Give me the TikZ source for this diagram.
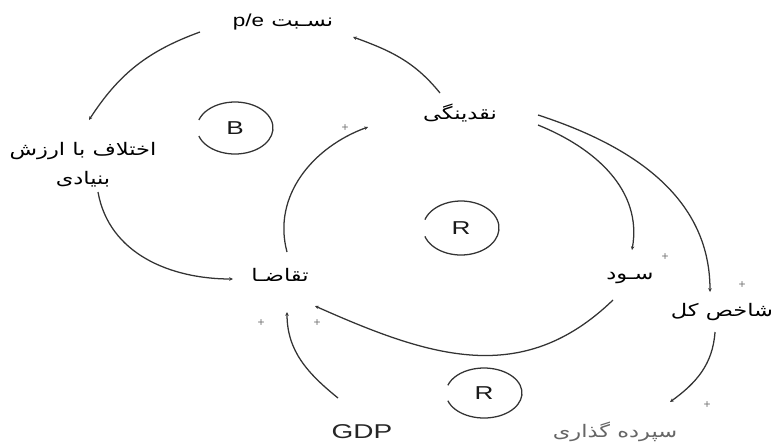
\documentclass[tikz,border=0pt]{standalone}
\usepackage{graphicx}
\usepackage{fontspec}
\setmainfont{Liberation Sans}
\newfontfamily\farsi[Script=Arabic]{DejaVu Sans}
\TeXXeTstate=1
\usetikzlibrary{arrows.meta}

% Persian and Latin labels, widened like the original drawing
\newcommand{\fa}[1]{\scalebox{1.3}[1]{\farsi\beginR #1\endR}}
\newcommand{\la}[1]{\scalebox{1.4}[1]{\rmfamily #1}}

\begin{document}
\begin{tikzpicture}[x=0.75pt,y=0.75pt,
  var/.style={inner sep=1pt,text=black,font=\fontsize{13}{22}\selectfont},
  link/.style={draw=black!80,line width=0.95pt,-{Stealth[length=2.8pt,width=2.6pt]}},
  loopmark/.style={draw=black!80,line width=0.95pt},
  looplabel/.style={inner sep=0pt,text=black!90,font=\fontsize{14}{14}\selectfont},
  sign/.style={inner sep=0pt,text=black!55,font=\fontsize{9}{9}\selectfont}]
  \useasboundingbox (0,0) rectangle (773,-444);
  % Variables of the causal loop diagram.
  \node[var] (pe) at (283,-22) {\fa{نسـبت \beginL{\rmfamily p/e}\endL}};
  \node[var,align=center] (ekh) at (83,-165) {\fa{اختلاف با ارزش}\\\fa{بنیادی}};
  \node[var] (nq) at (460,-113) {\fa{نقدینگی}};
  \node[var] (tq) at (280,-275) {\fa{تقاضـا}};
  \node[var] (sd) at (630,-278) {\fa{سـود}};
  \node[var] (sh) at (722,-312) {\fa{شاخص کل}};
  \node[var,font=\fontsize{15}{18}\selectfont,text=black!85] (gdp) at (362,-432) {\la{GDP}};
  \node[var,text=black!60] (sg) at (615,-432) {\fa{سپرده گذاری}};
  % Loop markers: one balancing loop, two reinforcing loops.
  \node[looplabel] (lb) at (235,-128) {\la{B}};
  \node[looplabel] (lr) at (461,-228) {\la{R}};
  \node[looplabel] (lr2) at (484,-393) {\la{R}};
  \foreach \m/\ry in {lb/26,lr/27,lr2/25} {
    \draw[loopmark] ([shift={(198:38 and \ry)}]\m.center)
      arc[start angle=198,end angle=522,x radius=38,y radius=\ry];
  }
  % Causal links.
  \draw[link] ([shift={(-83,-10)}]pe.center) to[out=200,in=57] ([shift={(6,45)}]ekh.center);
  \draw[link] ([shift={(-20,20)}]nq.center) to[out=129,in=340] ([shift={(70,-15)}]pe.center);
  \draw[link] ([shift={(15,-27)}]ekh.center) to[out=-80,in=180] ([shift={(-47,-4)}]tq.center);
  \draw[link] ([shift={(7,23)}]tq.center) to[out=105,in=200] ([shift={(-92,-14)}]nq.center);
  \draw[link] ([shift={(78,-12)}]nq.center) to[out=-22,in=80] ([shift={(2,28)}]sd.center);
  \draw[link] ([shift={(78,-2)}]nq.center) to[out=-18,in=90] ([shift={(-12,20)}]sh.center);
  \draw[link] ([shift={(-17,-22)}]sd.center) to[out=224,in=336,looseness=1.08] ([shift={(35,-31)}]tq.center);
  \draw[link] ([shift={(-24,34)}]gdp.center) to[out=141,in=270] ([shift={(7,-37)}]tq.center);
  \draw[link] ([shift={(-7,-20)}]sh.center) to[out=266,in=36] ([shift={(55,30)}]sg.center);
  % Polarity signs next to the arrow heads.
  \foreach \i/\x/\y in {1/345/128,2/665/257,3/742/285,4/317/323,5/261/323,6/707/405} {
    \node[sign] (s\i) at (\x,-\y) {+};
  }
\end{tikzpicture}
\end{document}
